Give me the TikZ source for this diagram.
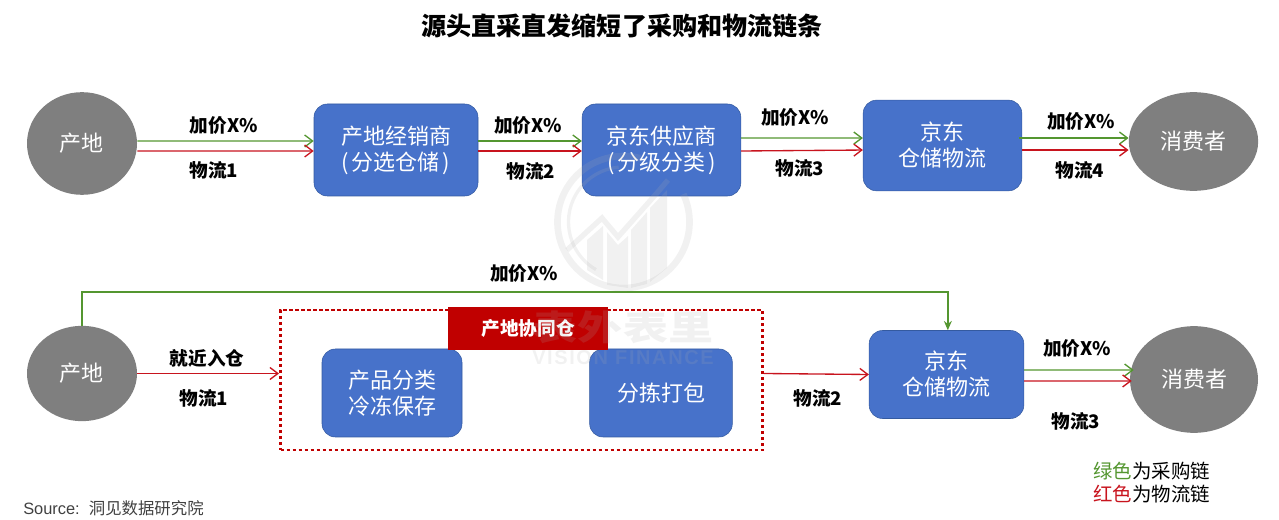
\documentclass[tikz,border=0pt]{standalone}
\usepackage{fontspec}
\setmainfont{Liberation Sans}
\newfontfamily\cjk{Noto Sans CJK SC}
\newfontfamily\marklatin[LetterSpace=8]{Liberation Sans}
\usetikzlibrary{arrows.meta,shapes.geometric}
\definecolor{boxblue}{RGB}{71,114,202}
\definecolor{boxedge}{RGB}{52,90,160}
\definecolor{blobgray}{RGB}{127,127,127}
\definecolor{buyline}{RGB}{84,150,48}
\definecolor{shipline}{RGB}{200,20,30}
\definecolor{tagred}{RGB}{192,0,0}
\tikzset{
  place/.style={ellipse,fill=blobgray,inner sep=0pt,text=white,font=\cjk\fontsize{16.5}{20}\selectfont},
  stage/.style={rectangle,rounded corners=10pt,draw=boxedge,fill=boxblue,inner sep=0pt,text=white,align=center,
    font=\cjk\fontsize{16.5}{19.5}\selectfont},
  buy/.style={draw=buyline,line width=1pt,-{Straight Barb[length=6pt,width=9pt]}},
  ship/.style={draw=shipline,line width=1pt,-{Straight Barb[length=6pt,width=9pt]}},
  tag/.style={font=\cjk\bfseries\fontsize{14}{16}\selectfont}
}
\begin{document}
\begin{tikzpicture}[x=0.75pt,y=-0.75pt]
  \useasboundingbox (0,0) rectangle (1279,520);
  \node [font=\cjk\bfseries\fontsize{18.8}{22}\selectfont] (title) at (622,26) {源头直采直发缩短了采购和物流链条};

  % top chain
  \node [place,minimum width=82.5pt,minimum height=77pt] (origin) at (82,143.5) {产地};
  \node [stage,minimum width=123pt,minimum height=69pt] (dealer) at (396,150) {产地经销商\\(\hspace{2pt}分选仓储\hspace{2pt})};
  \node [stage,minimum width=119pt,minimum height=69pt] (supplier) at (661.5,150) {京东供应商\\(\hspace{2pt}分级分类\hspace{2pt})};
  \node [stage,minimum width=119pt,minimum height=68pt] (jdtop) at (942.5,145.5) {京东\\仓储物流};
  \node [place,minimum width=97pt,minimum height=74pt] (buyer) at (1193.5,141.5) {消费者};

  \draw [buy] ([yshift=1.9pt]origin.east) -- ([yshift=6.75pt]dealer.west);
  \draw [ship] ([yshift=-5.6pt]origin.east) -- ([yshift=-0.75pt]dealer.west);
  \draw [buy] ([yshift=6.75pt]dealer.east) -- ([yshift=6.75pt]supplier.west);
  \draw [ship] ([yshift=-0.75pt]dealer.east) -- ([yshift=-0.75pt]supplier.west);
  \draw [buy] ([yshift=9pt]supplier.east) -- ([yshift=5.6pt]jdtop.west);
  \draw [ship] ([yshift=-0.75pt]supplier.east) -- ([yshift=-3.4pt]jdtop.west);
  \draw [buy] ([yshift=5.6pt,xshift=-2pt]jdtop.east) -- ([yshift=2.6pt]buyer.west);
  \draw [ship] ([yshift=-3.4pt]jdtop.east) -- ([yshift=-6.4pt]buyer.west);

  \node [tag] (p1) at (224,125) {加价X\%};
  \node [tag] (s1) at (214,170) {物流1};
  \node [tag] (p2) at (528,125) {加价X\%};
  \node [tag] (s2) at (531,171) {物流2};
  \node [tag] (p3) at (795,117) {加价X\%};
  \node [tag] (s3) at (800,168) {物流3};
  \node [tag] (p4) at (1081,121) {加价X\%};
  \node [tag] (s4) at (1080,170) {物流4};

  % bottom chain
  \node [place,minimum width=82.5pt,minimum height=71.5pt] (originb) at (82,373.5) {产地};
  \node [stage,minimum width=105pt,minimum height=66pt] (cold) at (392,393) {产品分类\\冷冻保存};
  \node [stage,minimum width=107pt,minimum height=66pt] (pack) at (661,393) {分拣打包};
  \node [draw=tagred,line width=2.2pt,dash pattern=on 2.3pt off 2.2pt,minimum width=361.5pt,minimum height=105pt,inner sep=0pt] (hub) at (521.5,380) {};
  \node [fill=tagred,text=white,minimum width=120pt,minimum height=32pt,inner sep=0pt,font=\cjk\bfseries\fontsize{14}{16}\selectfont] (hubtag) at (528,328.5) {产地协同仓};
  \node [stage,minimum width=116pt,minimum height=66pt] (jdbot) at (946.5,374.5) {京东\\仓储物流};
  \node [place,minimum width=96pt,minimum height=80pt] (buyerb) at (1194,379.5) {消费者};
  \coordinate (turn) at (0,292);

  \draw [ship] (originb.east) -- (hub.west |- originb.east);
  \draw [ship] (hub.east |- originb.east) -- (jdbot.west);
  \draw [draw=buyline,line width=1pt,-{Stealth[length=7pt,width=6pt]}] (originb.north) -- (originb.north |- turn) -- ([xshift=1pt]jdbot.north |- turn) -- ([xshift=1pt]jdbot.north);
  \draw [buy] ([yshift=3.4pt]jdbot.east) -- ([xshift=3pt,yshift=7.1pt]buyerb.west);
  \draw [ship] ([yshift=-4.9pt]jdbot.east) -- ([xshift=1.5pt,yshift=-1.1pt]buyerb.west);

  \node [tag] (pa) at (524,273) {加价X\%};
  \node [tag] (sa) at (207,358) {就近入仓};
  \node [tag] (sb) at (204,398) {物流1};
  \node [tag] (sc) at (818,398) {物流2};
  \node [tag] (pb) at (1077,348) {加价X\%};
  \node [tag] (sd) at (1076,421) {物流3};

  % legend and source
  \node [anchor=west,inner sep=0pt,font=\cjk\fontsize{14.6}{17}\selectfont] (greennote) at (1093,471) {\textcolor{buyline}{绿色}为采购链};
  \node [anchor=west,inner sep=0pt,font=\cjk\fontsize{14.6}{17}\selectfont] (rednote) at (1093,494) {\textcolor{shipline}{红色}为物流链};
  \node [anchor=west,inner sep=0pt,text=black!75,font=\fontsize{12.3}{14}\selectfont] (source) at (23,508) {Source:\ \ {\cjk 洞见数据研究院}};

  % watermark
  \begin{scope}[opacity=0.16,black!33]
    \draw [line width=5pt] ([shift={(-25:66)}]623.5,222) arc (-25:285:66);
    \draw [line width=2.5pt] ([shift={(120:55)}]623.5,222) arc (120:265:55);
    \draw [line width=4pt] (567,250) -- (602,218) -- (618,237) -- (657,193) -- (668,180);
    \fill (587,240) -- (603,226) -- (603,280) -- (587,270) -- cycle;
    \fill (607,232) -- (618,245) -- (628,236) -- (628,288) -- (607,285) -- cycle;
    \fill (631,230) -- (647,212) -- (647,284) -- (631,288) -- cycle;
    \fill (650,208) -- (667,190) -- (667,268) -- (650,282) -- cycle;
    \node [text=black!33,xscale=1.3,font=\cjk\bfseries\fontsize{26}{30}\selectfont] (markcn) at (623,327) {表外表里};
    \node [text=black!33,font=\marklatin\bfseries\fontsize{15}{17}\selectfont] (markla) at (623,358) {VISION FINANCE};
  \end{scope}
\end{tikzpicture}
\end{document}
